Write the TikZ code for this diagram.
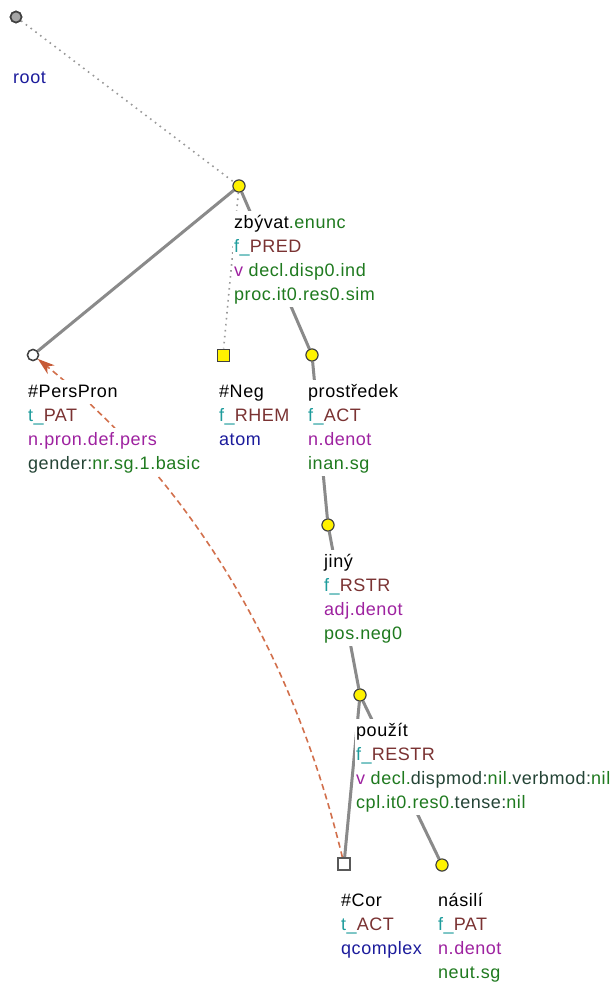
\documentclass[tikz,border=0pt]{standalone}
\usepackage{fontspec}
\setmainfont[LetterSpace=3]{Liberation Sans}
\usetikzlibrary{arrows.meta}
\definecolor{cteal}{HTML}{1E9C9C}
\definecolor{cbrown}{HTML}{7A3232}
\definecolor{cpurple}{HTML}{9E22A0}
\definecolor{cgreen}{HTML}{1F7A1F}
\definecolor{cblue}{HTML}{1C1C9C}
\definecolor{cdark}{HTML}{244436}
\definecolor{cedge}{HTML}{8A8A8A}
\definecolor{ccoref}{HTML}{D2704C}
\definecolor{ctip}{HTML}{C65A36}
\newcommand{\tT}[1]{\textcolor{cteal}{#1}}
\newcommand{\tBr}[1]{\textcolor{cbrown}{#1}}
\newcommand{\tP}[1]{\textcolor{cpurple}{#1}}
\newcommand{\tG}[1]{\textcolor{cgreen}{#1}}
\newcommand{\tBl}[1]{\textcolor{cblue}{#1}}
\newcommand{\tD}[1]{\textcolor{cdark}{#1}}
\tikzset{
  ycirc/.style={circle, draw=black!75, fill=yellow, line width=1pt, minimum size=12pt, inner sep=0pt},
  wcirc/.style={circle, draw=black!75, fill=white, line width=1.4pt, minimum size=11pt, inner sep=0pt},
  rcirc/.style={circle, draw=black!75, fill=black!35, line width=1.6pt, minimum size=11pt, inner sep=0pt},
  ysq/.style={rectangle, draw=black!75, fill=yellow, line width=1pt, minimum size=12pt, inner sep=0pt},
  wsq/.style={rectangle, draw=black!65, fill=white, line width=1.4pt, minimum size=12pt, inner sep=0pt},
  edge/.style={draw=cedge, line width=3pt},
  dotedge/.style={draw=black!40, line width=1.6pt, dash pattern=on 1.6pt off 4.4pt},
  coref/.style={draw=ccoref, line width=1.6pt, dash pattern=on 6pt off 4pt, -{Stealth[length=17pt,width=11pt,inset=5pt,color=ctip]}},
  lab/.style={anchor=base west, fill=white, inner xsep=1pt, inner ysep=0pt, text height=17pt, text depth=7pt, font=\fontsize{18}{24}\selectfont}
}
\begin{document}
\begin{tikzpicture}[x=1pt, y=-1pt]
\useasboundingbox (0,0) rectangle (614,982);
\fill[white] (0,0) rectangle (614,982);
% node markers
\node[rcirc] (root) at (16,17) {};
\node[ycirc] (zbyvat) at (239,186) {};
\node[wcirc] (perspron) at (33,355) {};
\node[ysq] (neg) at (223,355) {};
\node[ycirc] (prostredek) at (312,355) {};
\node[ycirc] (jiny) at (328,525) {};
\node[ycirc] (pouzit) at (360,695) {};
\node[wsq] (cor) at (344,864) {};
\node[ycirc] (nasili) at (442,865) {};
% edges
\draw[dotedge] (root) -- (zbyvat);
\draw[dotedge] (zbyvat) -- (neg);
\draw[edge] (zbyvat) -- (perspron);
\draw[edge] (zbyvat) -- (prostredek);
\draw[edge] (prostredek) -- (jiny);
\draw[edge] (jiny) -- (pouzit);
\draw[edge] (pouzit) -- (cor);
\draw[edge] (pouzit) -- (nasili);
% coreference arrow
\draw[coref] (cor) .. controls (291.7,648.3) and (190.7,482.7) .. (perspron);
% labels
\node[lab] (rootL2) at (12,83) {\tBl{root}};
\node[lab] (zbyvatL1) at (233,228) {zbývat\tG{.enunc}};
\node[lab] (zbyvatL2) at (233,252) {\tT{f\_}\tBr{PRED}};
\node[lab] (zbyvatL3) at (233,276) {\tP{v} \tG{decl.disp0.ind}};
\node[lab] (zbyvatL4) at (233,300) {\tG{proc.it0.res0.sim}};
\node[lab] (persL1) at (27,397) {\#PersPron};
\node[lab] (persL2) at (27,421) {\tT{t\_}\tBr{PAT}};
\node[lab] (persL3) at (27,445) {\tP{n.pron.def.pers}};
\node[lab] (persL4) at (27,469) {\tD{gender:}\tG{nr.sg.1.basic}};
\node[lab] (negL1) at (218,397) {\#Neg};
\node[lab] (negL2) at (218,421) {\tT{f\_}\tBr{RHEM}};
\node[lab] (negL3) at (218,445) {\tBl{atom}};
\node[lab] (prosL1) at (307,397) {prostředek};
\node[lab] (prosL2) at (307,421) {\tT{f\_}\tBr{ACT}};
\node[lab] (prosL3) at (307,445) {\tP{n.denot}};
\node[lab] (prosL4) at (307,469) {\tG{inan.sg}};
\node[lab] (jinyL1) at (323,567) {jiný};
\node[lab] (jinyL2) at (323,591) {\tT{f\_}\tBr{RSTR}};
\node[lab] (jinyL3) at (323,615) {\tP{adj.denot}};
\node[lab] (jinyL4) at (323,639) {\tG{pos.neg0}};
\node[lab] (pouzitL1) at (355,736) {použít};
\node[lab] (pouzitL2) at (355,760) {\tT{f\_}\tBr{RESTR}};
\node[lab] (pouzitL3) at (355,784) {\tP{v} \tG{decl.}\tD{dispmod:}\tG{nil.}\tD{verbmod:}\tG{nil}};
\node[lab] (pouzitL4) at (355,808) {\tG{cpl.it0.res0.}\tD{tense:}\tG{nil}};
\node[lab] (corL1) at (340,906) {\#Cor};
\node[lab] (corL2) at (340,930) {\tT{t\_}\tBr{ACT}};
\node[lab] (corL3) at (340,954) {\tBl{qcomplex}};
\node[lab] (nasiliL1) at (437,906) {násilí};
\node[lab] (nasiliL2) at (437,930) {\tT{f\_}\tBr{PAT}};
\node[lab] (nasiliL3) at (437,954) {\tP{n.denot}};
\node[lab] (nasiliL4) at (437,978) {\tG{neut.sg}};
% redraw markers above lines
\node[rcirc] at (root) {};
\node[ycirc] at (zbyvat) {};
\node[wcirc] at (perspron) {};
\node[ysq] at (neg) {};
\node[ycirc] at (prostredek) {};
\node[ycirc] at (jiny) {};
\node[ycirc] at (pouzit) {};
\node[wsq] at (cor) {};
\node[ycirc] at (nasili) {};
\end{tikzpicture}
\end{document}
